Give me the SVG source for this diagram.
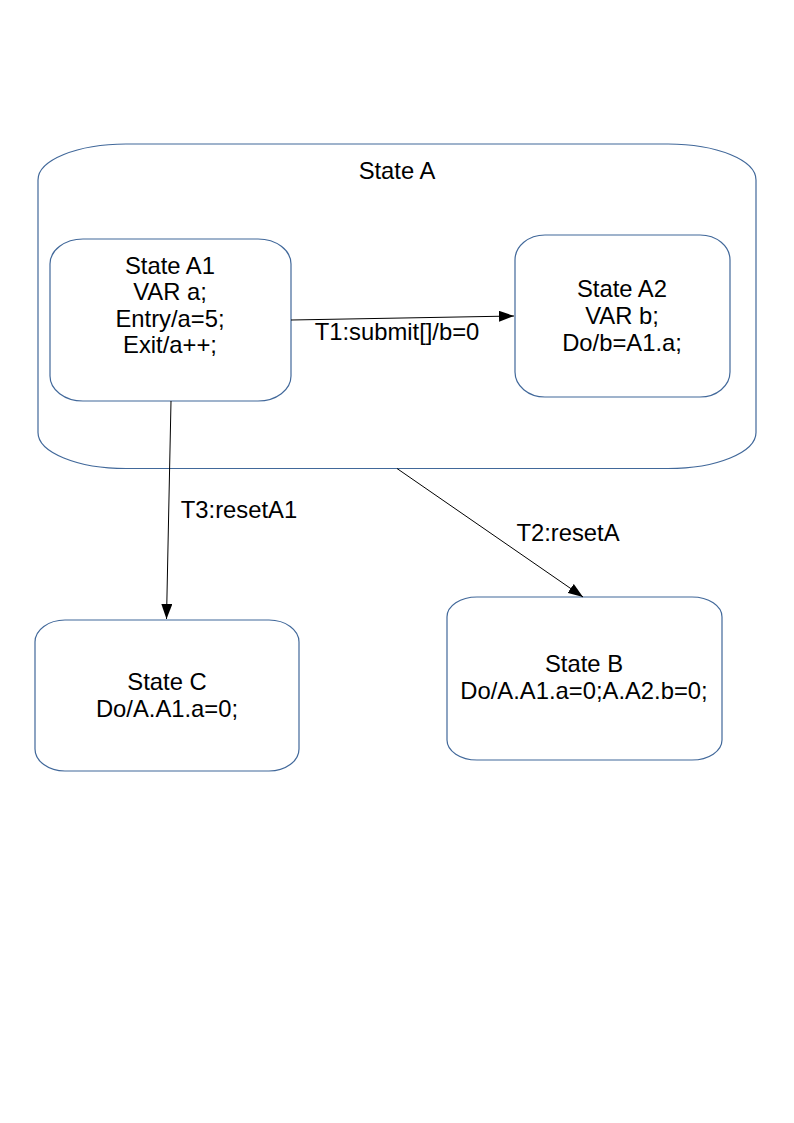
<svg xmlns="http://www.w3.org/2000/svg" width="794" height="1123" viewBox="0 0 794 1123">
<style>
.st{fill:#ffffff;stroke:#41689a;stroke-width:1.2}
.t{font-family:"Liberation Sans",Arial,sans-serif;font-size:23.8px;fill:#000000;text-anchor:middle}
.c{stroke:#000000;stroke-width:1;fill:none}
</style>
<defs>
<marker id="arr" viewBox="0 0 15 11" refX="15" refY="5.5" markerWidth="15" markerHeight="11" markerUnits="userSpaceOnUse" orient="auto">
<path d="M0,0 L15,5.5 L0,11 Z" fill="#000000"/>
</marker>
</defs>
<rect width="794" height="1123" fill="#ffffff"/>
<g id="stateA">
<rect class="st" x="38" y="144" width="718" height="324.5" rx="88" ry="36"/>
<text class="t" x="397" y="179">State A</text>
</g>
<g id="stateA1">
<rect class="st" x="50" y="239" width="241" height="162" rx="33" ry="25"/>
<text class="t" x="170" y="274">State A1</text>
<text class="t" x="170" y="300">VAR a;</text>
<text class="t" x="170" y="327">Entry/a=5;</text>
<text class="t" x="170" y="353">Exit/a++;</text>
</g>
<g id="stateA2">
<rect class="st" x="515" y="235" width="215" height="162" rx="30" ry="25"/>
<text class="t" x="622" y="297">State A2</text>
<text class="t" x="622" y="324">VAR b;</text>
<text class="t" x="622" y="351">Do/b=A1.a;</text>
</g>
<g id="stateC">
<rect class="st" x="35" y="620" width="264" height="151" rx="30" ry="22"/>
<text class="t" x="167" y="690">State C</text>
<text class="t" x="167" y="717">Do/A.A1.a=0;</text>
</g>
<g id="stateB">
<rect class="st" x="447" y="597" width="275" height="163" rx="30" ry="20"/>
<text class="t" x="584" y="672">State B</text>
<text class="t" x="584" y="699">Do/A.A1.a=0;A.A2.b=0;</text>
</g>
<g id="connectors">
<line class="c" x1="291" y1="320" x2="514" y2="316" marker-end="url(#arr)"/>
<line class="c" x1="171" y1="401" x2="166.5" y2="619" marker-end="url(#arr)"/>
<line class="c" x1="397" y1="468.5" x2="583" y2="597" marker-end="url(#arr)"/>
<text class="t" x="397" y="340">T1:submit[]/b=0</text>
<text class="t" x="239" y="518">T3:resetA1</text>
<text class="t" x="568" y="541">T2:resetA</text>
</g>
</svg>
